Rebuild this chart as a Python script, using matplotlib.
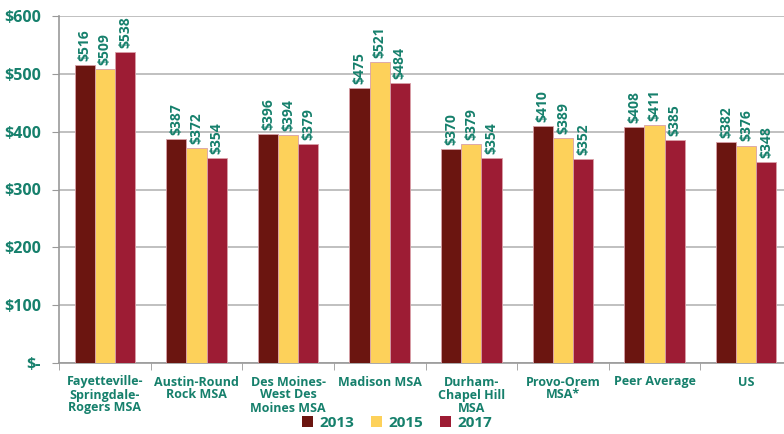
import numpy as np
import matplotlib.pyplot as plt

categories = ['Fayetteville-\nSpringdale-\nRogers MSA', 'Austin-Round\nRock MSA',
              'Des Moines-\nWest Des\nMoines MSA', 'Madison MSA', 'Durham-\nChapel Hill\nMSA',
              'Provo-Orem\nMSA*', 'Peer Average', 'US']
years = ['2013', '2015', '2017']
v2013 = [516, 387, 396, 475, 370, 410, 408, 382]
v2015 = [509, 372, 394, 521, 379, 389, 411, 376]
v2017 = [538, 354, 379, 484, 354, 352, 385, 348]
colors = ['#6B1510', '#FDD15A', '#9D1C34']
teal = '#16806C'

plt.rcParams['font.family'] = ['Open Sans', 'DejaVu Sans']

fig = plt.figure(figsize=(7.84, 4.34), dpi=100)
ax = fig.add_axes([59 / 784, 71 / 434, 733 / 784, 347 / 434])

x = np.arange(len(categories))
w = 0.22
for i, (vals, c, yr) in enumerate(zip([v2013, v2015, v2017], colors, years)):
    pos = x + (i - 1) * w
    ax.bar(pos, vals, w, color=c, edgecolor='#D9A0A8', linewidth=0.6, label=yr, zorder=3)
    for px, v in zip(pos, vals):
        ax.text(px, v + 7, f'${v}', rotation=90, ha='center', va='bottom',
                color=teal, fontsize=10, fontweight='bold')

ax.set_xlim(-0.5, len(categories) - 0.5)
ax.set_ylim(0, 600)
ax.set_yticks(range(0, 601, 100))
ax.set_yticklabels(['$-'] + [f'${v}' for v in range(100, 601, 100)])
ax.yaxis.grid(True, color='#B5B5B5', linewidth=1.2, zorder=0)
ax.set_axisbelow(True)

ax.set_xticks(x)
ax.set_xticklabels(categories, linespacing=1.0)
ax.set_xticks(np.arange(-0.5, len(categories), 1), minor=True)
ax.tick_params(axis='x', which='major', length=0, pad=9, labelsize=9, labelcolor=teal)
ax.tick_params(axis='x', which='minor', length=5, color='#999999')
ax.tick_params(axis='y', length=5, color='#999999', labelsize=11.5, labelcolor=teal, pad=8)
for lab in ax.get_xticklabels() + ax.get_yticklabels():
    lab.set_fontweight('bold')

for s in ['top', 'right']:
    ax.spines[s].set_visible(False)
ax.spines['left'].set_color('#999999')
ax.spines['bottom'].set_color('#999999')
ax.spines['left'].set_linewidth(1.2)
ax.spines['bottom'].set_linewidth(1.2)

leg = fig.legend(loc='lower center', bbox_to_anchor=(397 / 784, -0.005), ncol=3, frameon=False,
                 handlelength=0.75, handleheight=0.75, handletextpad=0.4, columnspacing=1.1,
                 borderaxespad=0, prop={'size': 11, 'weight': 'bold'})
for t in leg.get_texts():
    t.set_color(teal)
for h in leg.legend_handles:
    h.set_edgecolor('none')

fig.savefig('out.png', dpi=100)
